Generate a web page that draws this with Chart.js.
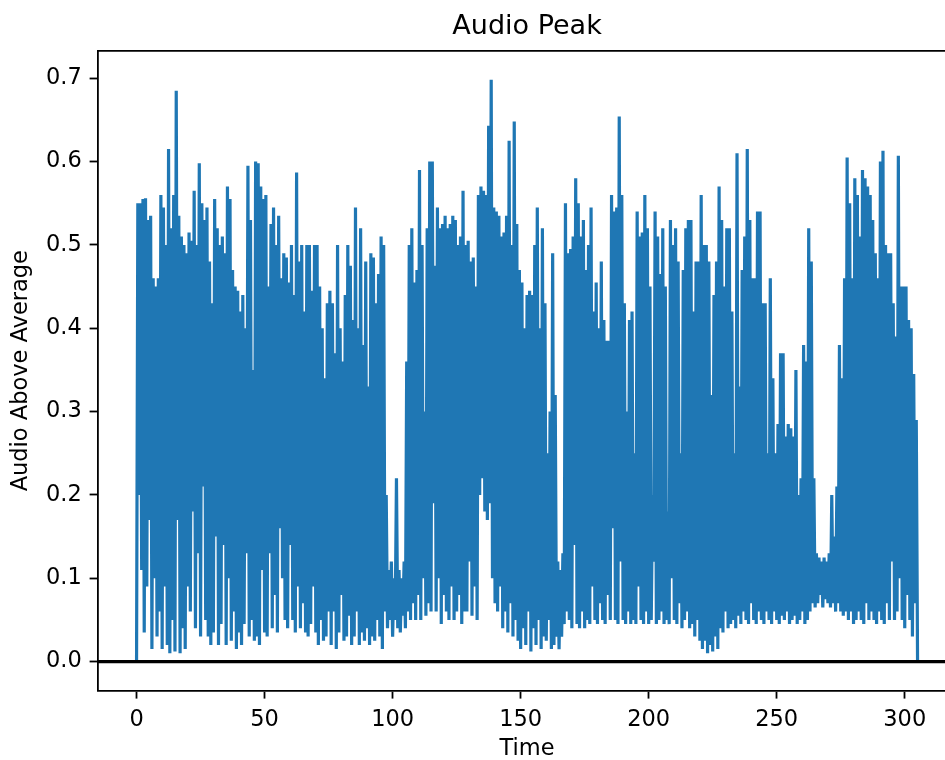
<!DOCTYPE html>
<html lang="en">
<head>
<meta charset="utf-8">
<title>Audio Peak</title>
<style>
  html, body { margin: 0; padding: 0; background: #fff; overflow: hidden; }
  #wrap { width: 960px; height: 760px; }
</style>
</head>
<body>
<div id="wrap"><canvas id="peakChart" width="960" height="760"></canvas></div>
<script src="https://cdn.jsdelivr.net/npm/chart.js@4"></script>
<script>
// troughs at whole seconds (0..305), peaks half a second after each trough (0..304)
const lows = [
  0.0, 0.20, 0.11, 0.035, 0.09, 0.17, 0.015, 0.10, 0.03, 0.06,
  0.015, 0.09, 0.02, 0.01, 0.05, 0.012, 0.17, 0.01, 0.04, 0.015,
  0.09, 0.06, 0.18, 0.04, 0.13, 0.03, 0.21, 0.05, 0.03, 0.02,
  0.035, 0.15, 0.02, 0.045, 0.14, 0.02, 0.10, 0.025, 0.06, 0.015,
  0.035, 0.02, 0.045, 0.13, 0.03, 0.05, 0.025, 0.03, 0.02, 0.11,
  0.035, 0.03, 0.13, 0.04, 0.08, 0.035, 0.16, 0.10, 0.05, 0.04,
  0.14, 0.05, 0.035, 0.09, 0.04, 0.07, 0.035, 0.03, 0.045, 0.09,
  0.035, 0.02, 0.05, 0.025, 0.03, 0.06, 0.02, 0.06, 0.015, 0.035,
  0.08, 0.025, 0.03, 0.055, 0.02, 0.03, 0.06, 0.02, 0.035, 0.025,
  0.04, 0.02, 0.03, 0.025, 0.05, 0.03, 0.015, 0.06, 0.04, 0.05,
  0.03, 0.05, 0.04, 0.035, 0.055, 0.04, 0.06, 0.05, 0.07, 0.05,
  0.08, 0.05, 0.10, 0.055, 0.07, 0.06, 0.19, 0.06, 0.10, 0.045,
  0.08, 0.06, 0.05, 0.09, 0.05, 0.06, 0.08, 0.045, 0.06, 0.06,
  0.12, 0.055, 0.09, 0.05, 0.20, 0.22, 0.18, 0.17, 0.19, 0.10,
  0.07, 0.06, 0.09, 0.04, 0.06, 0.035, 0.07, 0.03, 0.05, 0.025,
  0.015, 0.04, 0.02, 0.06, 0.012, 0.04, 0.02, 0.05, 0.015, 0.03,
  0.025, 0.05, 0.015, 0.02, 0.03, 0.015, 0.03, 0.045, 0.06, 0.05,
  0.04, 0.14, 0.045, 0.04, 0.06, 0.04, 0.05, 0.045, 0.09, 0.05,
  0.045, 0.07, 0.05, 0.045, 0.08, 0.05, 0.16, 0.05, 0.045, 0.12,
  0.05, 0.045, 0.06, 0.045, 0.05, 0.045, 0.09, 0.05, 0.045, 0.06,
  0.045, 0.05, 0.12, 0.045, 0.05, 0.06, 0.045, 0.05, 0.045, 0.10,
  0.05, 0.045, 0.07, 0.04, 0.05, 0.06, 0.04, 0.045, 0.03, 0.05,
  0.025, 0.015, 0.025, 0.01, 0.02, 0.012, 0.03, 0.015, 0.04, 0.035,
  0.06, 0.04, 0.045, 0.05, 0.04, 0.055, 0.045, 0.06, 0.05, 0.045,
  0.07, 0.05, 0.045, 0.06, 0.05, 0.045, 0.06, 0.05, 0.045, 0.06,
  0.05, 0.045, 0.055, 0.05, 0.06, 0.045, 0.05, 0.055, 0.045, 0.05,
  0.06, 0.045, 0.05, 0.06, 0.07, 0.065, 0.07, 0.08, 0.065, 0.075,
  0.07, 0.065, 0.07, 0.06, 0.07, 0.06, 0.055, 0.06, 0.05, 0.06,
  0.045, 0.05, 0.06, 0.05, 0.045, 0.07, 0.05, 0.06, 0.05, 0.045,
  0.06, 0.05, 0.045, 0.07, 0.05, 0.12, 0.05, 0.06, 0.10, 0.05,
  0.04, 0.08, 0.05, 0.03, 0.07, 0.0
];
const highs = [
  0.55, 0.55, 0.555, 0.556, 0.53, 0.535, 0.46, 0.45, 0.46, 0.56,
  0.545, 0.50, 0.615, 0.52, 0.56, 0.685, 0.535, 0.51, 0.50, 0.49,
  0.515, 0.505, 0.565, 0.50, 0.598, 0.55, 0.53, 0.545, 0.48, 0.43,
  0.555, 0.52, 0.50, 0.51, 0.49, 0.57, 0.555, 0.47, 0.45, 0.445,
  0.42, 0.44, 0.40, 0.595, 0.53, 0.35, 0.60, 0.598, 0.57, 0.555,
  0.56, 0.45, 0.525, 0.545, 0.50, 0.535, 0.46, 0.49, 0.485, 0.455,
  0.50, 0.44, 0.587, 0.48, 0.50, 0.42, 0.50, 0.50, 0.445, 0.50,
  0.50, 0.45, 0.40, 0.34, 0.43, 0.445, 0.43, 0.37, 0.50, 0.40,
  0.36, 0.44, 0.50, 0.475, 0.41, 0.545, 0.40, 0.52, 0.38, 0.48,
  0.33, 0.49, 0.485, 0.43, 0.465, 0.51, 0.50, 0.20, 0.11, 0.12,
  0.10, 0.22, 0.11, 0.10, 0.12, 0.36, 0.50, 0.52, 0.455, 0.47,
  0.59, 0.50, 0.30, 0.52, 0.60, 0.60, 0.475, 0.545, 0.52, 0.525,
  0.535, 0.52, 0.525, 0.535, 0.53, 0.50, 0.51, 0.565, 0.50, 0.505,
  0.48, 0.485, 0.45, 0.56, 0.57, 0.565, 0.56, 0.643, 0.698, 0.545,
  0.54, 0.535, 0.51, 0.515, 0.535, 0.625, 0.50, 0.648, 0.525, 0.47,
  0.455, 0.40, 0.44, 0.445, 0.44, 0.50, 0.545, 0.40, 0.52, 0.43,
  0.25, 0.30, 0.49, 0.32, 0.12, 0.11, 0.13, 0.55, 0.49, 0.495,
  0.51, 0.58, 0.55, 0.51, 0.53, 0.47, 0.50, 0.545, 0.42, 0.455,
  0.40, 0.48, 0.41, 0.385, 0.385, 0.56, 0.54, 0.545, 0.654, 0.56,
  0.43, 0.30, 0.41, 0.42, 0.25, 0.54, 0.51, 0.515, 0.56, 0.52,
  0.45, 0.20, 0.54, 0.51, 0.465, 0.52, 0.45, 0.18, 0.53, 0.50,
  0.52, 0.48, 0.25, 0.47, 0.52, 0.53, 0.53, 0.42, 0.48, 0.48,
  0.56, 0.50, 0.50, 0.48, 0.32, 0.44, 0.48, 0.57, 0.53, 0.45,
  0.52, 0.52, 0.42, 0.25, 0.61, 0.33, 0.47, 0.51, 0.615, 0.53,
  0.46, 0.46, 0.54, 0.54, 0.43, 0.43, 0.25, 0.46, 0.34, 0.25,
  0.285, 0.37, 0.37, 0.27, 0.285, 0.28, 0.27, 0.35, 0.20, 0.22,
  0.38, 0.36, 0.52, 0.48, 0.22, 0.13, 0.125, 0.12, 0.125, 0.12,
  0.13, 0.20, 0.15, 0.21, 0.38, 0.34, 0.46, 0.605, 0.55, 0.46,
  0.58, 0.56, 0.51, 0.59, 0.58, 0.57, 0.56, 0.53, 0.49, 0.46,
  0.60, 0.613, 0.50, 0.49, 0.49, 0.43, 0.39, 0.607, 0.45, 0.45,
  0.45, 0.41, 0.40, 0.345, 0.29
];
const xTicks = [0, 50, 100, 150, 200, 250, 300];
const yTicks = [0, 0.1, 0.2, 0.3, 0.4, 0.5, 0.6, 0.7];
const xMin = -15.25, xMax = 320.25;
const yMin = -0.0349, yMax = 0.733;
const baseline = 0;

const points = [];
lows.forEach((v, t) => {
  points.push({ x: t, y: v });
  if (t < highs.length) points.push({ x: t + 0.5, y: highs[t] });
});

const font = { family: 'DejaVu Sans', size: 22.5 };

new Chart(document.getElementById('peakChart'), {
  type: 'line',
  data: {
    datasets: [
      { data: [{ x: xMin, y: baseline }, { x: xMax, y: baseline }],
        borderColor: '#000', borderWidth: 3.2, pointRadius: 0 },
      { data: points, borderColor: '#1f77b4', borderWidth: 3.2, pointRadius: 0,
        borderJoinStyle: 'bevel', tension: 0 }
    ]
  },
  options: {
    responsive: false,
    animation: false,
    devicePixelRatio: 1,
    layout: { padding: { left: 0, right: 3.4, top: 0, bottom: 0 } },
    plugins: {
      legend: { display: false },
      tooltip: { enabled: false },
      title: {
        display: true, text: 'Audio Peak', color: '#000', fullSize: false,
        font: { family: 'DejaVu Sans', size: 27, weight: 'normal' },
        padding: { top: 11, bottom: 7.3 }
      }
    },
    scales: {
      x: {
        type: 'linear', min: xMin, max: xMax,
        afterBuildTicks: ax => { ax.ticks = xTicks.map(v => ({ value: v })); },
        afterFit: ax => { ax.height = 69.3; },
        ticks: { color: '#000', font, padding: 8, maxRotation: 0, autoSkip: false },
        grid: { drawOnChartArea: false, tickLength: 7.9, tickColor: '#000', tickWidth: 1.8 },
        border: { color: '#000', width: 1.8 },
        title: { display: true, text: 'Time', color: '#000', font, padding: { top: 0, bottom: -3 } }
      },
      xTop: {
        type: 'linear', position: 'top', min: xMin, max: xMax,
        afterFit: ax => { ax.height = 0; },
        ticks: { display: false },
        grid: { drawOnChartArea: false, drawTicks: false },
        border: { color: '#000', width: 1.8 }
      },
      y: {
        min: yMin, max: yMax,
        afterBuildTicks: ax => { ax.ticks = yTicks.map(v => ({ value: v })); },
        afterFit: ax => { ax.width = 97.5; },
        ticks: { color: '#000', font, padding: 7.9, callback: v => v.toFixed(1) },
        grid: { drawOnChartArea: false, tickLength: 7.9, tickColor: '#000', tickWidth: 1.8 },
        border: { color: '#000', width: 1.8 },
        title: { display: true, text: 'Audio Above Average', color: '#000', font, padding: { top: 8, bottom: 0 } }
      }
    }
  }
});
</script>
</body>
</html>
